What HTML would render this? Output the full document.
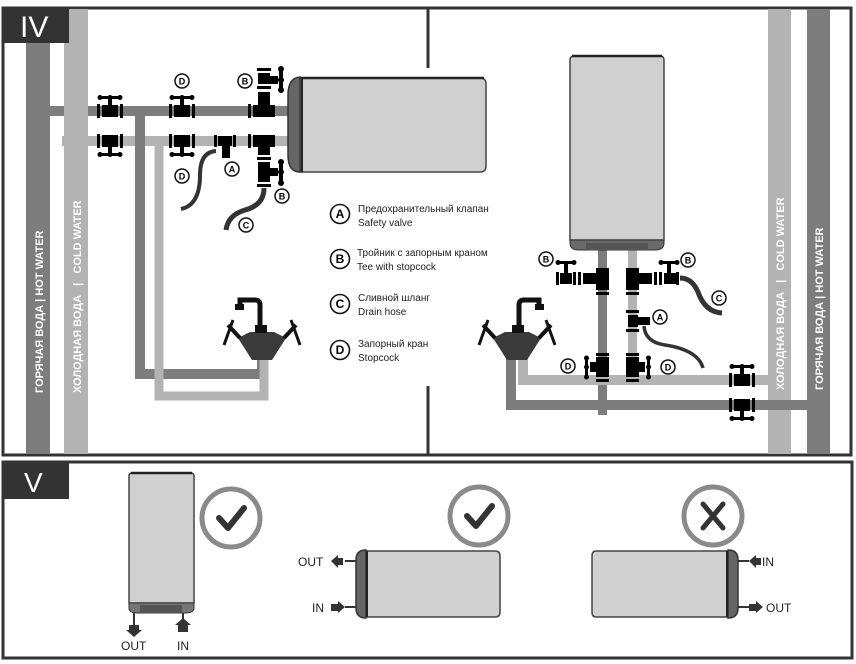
<!DOCTYPE html>
<html><head><meta charset="utf-8"><style>
html,body{margin:0;padding:0;background:#fff}
svg{display:block}
text{font-family:"Liberation Sans","DejaVu Sans",sans-serif}
</style></head><body>
<svg width="856" height="664" viewBox="0 0 856 664" xmlns="http://www.w3.org/2000/svg">
<defs>
<g id="v">
<rect x="-13" y="-7" width="3" height="14"/>
<rect x="10" y="-7" width="3" height="14"/>
<rect x="-8" y="-6" width="16" height="12"/>
<rect x="-2" y="-12" width="4" height="6"/>
<rect x="-11" y="-15" width="22" height="3"/>
<circle cx="-10" cy="-13.5" r="2.5"/><circle cx="10" cy="-13.5" r="2.5"/><circle cx="0" cy="-13.5" r="2.5"/>
</g>
<g id="lbl"><circle r="7" fill="#fff" stroke="#111" stroke-width="1.5"/></g>
<g id="faucet">
<polygon points="238,338 250,332 274,332 286,338 272,360 252,360" fill="#3a3a3a"/>
<rect x="255" y="325" width="12" height="8" fill="#111"/>
<path d="M260 326 V305 Q260 300 255 300 H240 V306" fill="none" stroke="#111" stroke-width="5"/>
<rect x="235" y="304" width="9" height="6" fill="#111"/>
<line x1="240" y1="338" x2="228" y2="325" stroke="#111" stroke-width="4"/>
<line x1="233" y1="320" x2="224" y2="345" stroke="#111" stroke-width="3"/>
<line x1="284" y1="338" x2="296" y2="325" stroke="#111" stroke-width="4"/>
<line x1="291" y1="320" x2="300" y2="345" stroke="#111" stroke-width="3"/>
</g>
</defs>

<!-- TOP PANEL -->
<rect x="3" y="8" width="848" height="447" fill="#fff" stroke="#333" stroke-width="3"/>
<line x1="428" y1="8" x2="428" y2="68" stroke="#333" stroke-width="3"/>
<line x1="428" y1="386" x2="428" y2="455" stroke="#333" stroke-width="3"/>

<!-- left risers -->
<rect x="26" y="43" width="24" height="411" fill="#7d7d7d"/>
<rect x="50" y="106" width="240" height="10" fill="#7d7d7d"/>
<rect x="64" y="9" width="24" height="445" fill="#b3b3b3"/>
<rect x="62" y="136" width="228" height="10" fill="#b3b3b3"/>
<text transform="translate(43,393) rotate(-90)" font-size="11" font-weight="bold" fill="#fff">ГОРЯЧАЯ ВОДА | HOT WATER</text>
<text transform="translate(81,393) rotate(-90)" font-size="11" font-weight="bold" fill="#fff">ХОЛОДНАЯ ВОДА&#160;&#160;&#160;|&#160;&#160;&#160;COLD WATER</text>
<rect x="3" y="8" width="66" height="35" fill="#333"/>
<text x="20" y="37" font-size="30" fill="#fff">IV</text>

<!-- faucet feed pipes left -->
<path d="M140 116 V374 H262 V358" fill="none" stroke="#7d7d7d" stroke-width="10"/>
<path d="M159 146 V396 H264 V358" fill="none" stroke="#b3b3b3" stroke-width="9"/>
<use href="#faucet"/>

<!-- left valves -->
<use href="#v" x="110" y="111"/>
<use href="#v" x="182" y="111"/>
<g transform="translate(110,141) scale(1,-1)"><use href="#v"/></g>
<g transform="translate(182,141) scale(1,-1)"><use href="#v"/></g>
<!-- safety valve A -->
<rect x="214" y="135" width="3" height="12"/><rect x="233" y="135" width="3" height="12"/>
<rect x="218" y="136" width="14" height="10"/><rect x="222" y="146" width="8" height="12"/>
<!-- tee B top -->
<rect x="248" y="104" width="3" height="14"/>
<rect x="253" y="105" width="22" height="12"/>
<rect x="258" y="92" width="12" height="13"/>
<rect x="257" y="86" width="14" height="3"/>
<rect x="258" y="73" width="12" height="11"/>
<rect x="257" y="68" width="14" height="3"/>
<rect x="270" y="76" width="8" height="8"/>
<rect x="279" y="67" width="4" height="25" rx="2"/>
<circle cx="281" cy="69" r="3"/><circle cx="281" cy="80" r="3"/><circle cx="281" cy="90" r="3"/>
<!-- tee B bottom -->
<rect x="248" y="134" width="3" height="14"/>
<rect x="253" y="135" width="22" height="12"/>
<rect x="258" y="147" width="12" height="8"/>
<rect x="257" y="157" width="14" height="3"/>
<rect x="258" y="162" width="12" height="20"/>
<rect x="257" y="184" width="14" height="3"/>
<rect x="270" y="168" width="8" height="8"/>
<rect x="279" y="160" width="4" height="25" rx="2"/>
<circle cx="281" cy="162" r="3"/><circle cx="281" cy="172" r="3"/><circle cx="281" cy="183" r="3"/>
<!-- hoses -->
<path d="M216 151 Q200 152 200 175 Q200 205 181 209" fill="none" stroke="#333" stroke-width="4"/>
<path d="M264 188 Q264 205 245 210 Q228 215 226 230" fill="none" stroke="#333" stroke-width="5"/>
<!-- labels -->
<g font-size="9" font-weight="bold" text-anchor="middle">
<use href="#lbl" x="182" y="81"/><text x="182" y="84.5">D</text>
<use href="#lbl" x="245" y="81"/><text x="245" y="84.5">B</text>
<use href="#lbl" x="182" y="176"/><text x="182" y="179.5">D</text>
<use href="#lbl" x="232" y="169"/><text x="232" y="172.5">A</text>
<use href="#lbl" x="282" y="196"/><text x="282" y="199.5">B</text>
<use href="#lbl" x="246" y="225"/><text x="246" y="228.5">C</text>
</g>

<!-- left heater horizontal -->
<path d="M300 78 H480 Q486 78 486 84 V166 Q486 172 480 172 H300 Z" fill="#d0d0d0" stroke="#444" stroke-width="1.5"/>
<line x1="300" y1="78" x2="484" y2="78" stroke="#222" stroke-width="2.5"/>
<path d="M300 77 Q288 78 288 95 V155 Q288 172 300 172 Z" fill="#666" stroke="#333" stroke-width="1.5"/>
<line x1="302" y1="78" x2="302" y2="172" stroke="#222" stroke-width="2"/>

<!-- legend -->
<g font-size="9" font-weight="bold" text-anchor="middle">
<circle cx="340" cy="214" r="9.5" fill="#fff" stroke="#111" stroke-width="1.6"/><text x="340" y="218" font-size="12">A</text>
<circle cx="340" cy="259" r="9.5" fill="#fff" stroke="#111" stroke-width="1.6"/><text x="340" y="263" font-size="12">B</text>
<circle cx="340" cy="304" r="9.5" fill="#fff" stroke="#111" stroke-width="1.6"/><text x="340" y="308" font-size="12">C</text>
<circle cx="340" cy="350" r="9.5" fill="#fff" stroke="#111" stroke-width="1.6"/><text x="340" y="354" font-size="12">D</text>
</g>
<g font-size="10" fill="#222">
<text x="358" y="212">Предохранительный клапан</text><text x="358" y="226">Safety valve</text>
<text x="357" y="256">Тройник с запорным краном</text><text x="357" y="270">Tee with stopcock</text>
<text x="358" y="301">Сливной шланг</text><text x="358" y="315">Drain hose</text>
<text x="358" y="347">Запорный кран</text><text x="358" y="361">Stopcock</text>
</g>

<!-- RIGHT SIDE -->
<rect x="768" y="9" width="23" height="445" fill="#b3b3b3"/>
<rect x="807" y="9" width="23" height="445" fill="#7d7d7d"/>
<text transform="translate(784,390) rotate(-90)" font-size="11" font-weight="bold" fill="#fff">ХОЛОДНАЯ ВОДА&#160;&#160;&#160;|&#160;&#160;&#160;COLD WATER</text>
<text transform="translate(823,390) rotate(-90)" font-size="11" font-weight="bold" fill="#fff">ГОРЯЧАЯ ВОДА | HOT WATER</text>
<rect x="598" y="250" width="9" height="165" fill="#7d7d7d"/>
<rect x="628" y="250" width="9" height="135" fill="#b3b3b3"/>
<path d="M511 358 V405 H807" fill="none" stroke="#7d7d7d" stroke-width="10"/>
<path d="M523 358 V380 H768" fill="none" stroke="#b3b3b3" stroke-width="10"/>
<g transform="translate(779,0) scale(-1,1)"><use href="#faucet"/></g>

<!-- right vertical heater -->
<path d="M574 56 H660 Q664 56 664 60 V240 H570 V60 Q570 56 574 56 Z" fill="#d0d0d0" stroke="#444" stroke-width="1.5"/>
<line x1="572" y1="56" x2="662" y2="56" stroke="#222" stroke-width="2.5"/>
<path d="M570 240 H664 V243 Q664 250 655 250 H579 Q570 250 570 243 Z" fill="#6a6a6a" stroke="#333" stroke-width="1"/>
<rect x="586" y="243" width="62" height="7" fill="#555"/>

<!-- right tees B -->
<rect x="596" y="268" width="13" height="22"/>
<rect x="596" y="292" width="13" height="3"/>
<rect x="583" y="273" width="13" height="11"/>
<rect x="578" y="272" width="3" height="13"/><rect x="573" y="272" width="3" height="13"/>
<rect x="560" y="273" width="12" height="11"/><rect x="556" y="272" width="3" height="13"/>
<rect x="564" y="264" width="4" height="9"/><rect x="557" y="261" width="18" height="3"/>
<circle cx="558" cy="262.5" r="2.5"/><circle cx="574" cy="262.5" r="2.5"/>
<rect x="626" y="268" width="13" height="22"/>
<rect x="626" y="292" width="13" height="3"/>
<rect x="639" y="273" width="13" height="11"/>
<rect x="654" y="272" width="3" height="13"/><rect x="659" y="272" width="3" height="13"/>
<rect x="664" y="273" width="12" height="11"/><rect x="676" y="272" width="3" height="13"/>
<rect x="667" y="264" width="4" height="9"/><rect x="661" y="261" width="18" height="3"/>
<circle cx="661" cy="262.5" r="2.5"/><circle cx="677" cy="262.5" r="2.5"/>
<path d="M680 278 Q692 278 698 292 Q705 312 722 313" fill="none" stroke="#333" stroke-width="5"/>
<!-- A right -->
<rect x="626" y="310" width="13" height="3"/><rect x="628" y="315" width="10" height="12"/>
<rect x="638" y="317" width="12" height="8"/><rect x="626" y="329" width="13" height="3"/>
<path d="M644 326 Q645 342 665 345 Q698 350 703 368" fill="none" stroke="#333" stroke-width="3.5"/>
<!-- D right -->
<rect x="596" y="353" width="13" height="3"/><rect x="596" y="357" width="13" height="20"/><rect x="596" y="379" width="13" height="3"/>
<rect x="590" y="362" width="6" height="10"/><rect x="585" y="360" width="3" height="15"/>
<circle cx="586.5" cy="358" r="2.5"/><circle cx="586.5" cy="367" r="2.5"/><circle cx="586.5" cy="377" r="2.5"/>
<rect x="626" y="353" width="13" height="3"/><rect x="626" y="357" width="13" height="20"/><rect x="626" y="379" width="13" height="3"/>
<rect x="639" y="362" width="6" height="10"/><rect x="647" y="360" width="3" height="15"/>
<circle cx="648.5" cy="358" r="2.5"/><circle cx="648.5" cy="367" r="2.5"/><circle cx="648.5" cy="377" r="2.5"/>
<use href="#v" x="742" y="380"/>
<g transform="translate(742,405) scale(1,-1)"><use href="#v"/></g>
<g font-size="9" font-weight="bold" text-anchor="middle">
<use href="#lbl" x="546" y="259"/><text x="546" y="262.5">B</text>
<use href="#lbl" x="688" y="260"/><text x="688" y="263.5">B</text>
<use href="#lbl" x="719" y="298"/><text x="719" y="301.5">C</text>
<use href="#lbl" x="660" y="317"/><text x="660" y="320.5">A</text>
<use href="#lbl" x="568" y="366"/><text x="568" y="369.5">D</text>
<use href="#lbl" x="668" y="367"/><text x="668" y="370.5">D</text>
</g>

<!-- BOTTOM PANEL -->
<rect x="3" y="462" width="849" height="196" fill="#fff" stroke="#333" stroke-width="3"/>
<rect x="3" y="462" width="66" height="37" fill="#333"/>
<text x="24" y="492" font-size="28" fill="#fff">V</text>

<!-- vertical heater -->
<path d="M132 473 H191 Q194 473 194 476 V603 H129 V476 Q129 473 132 473 Z" fill="#d0d0d0" stroke="#444" stroke-width="1.5"/>
<line x1="131" y1="473" x2="192" y2="473" stroke="#222" stroke-width="2.5"/>
<path d="M129 603 H194 V608 Q194 613 185 613 H138 Q129 613 129 608 Z" fill="#777" stroke="#333" stroke-width="1"/>
<rect x="140" y="605" width="42" height="7" fill="#555"/>
<line x1="134" y1="613" x2="134" y2="625" stroke="#333" stroke-width="2"/>
<polygon points="129,625 139,625 139,630 142,630 134,637 126,630 129,630" fill="#333"/>
<line x1="183" y1="613" x2="183" y2="626" stroke="#333" stroke-width="2"/>
<polygon points="183,618 191,625 188,625 188,632 178,632 178,625 175,625" fill="#333"/>
<text x="121" y="650" font-size="12" fill="#222">OUT</text>
<text x="177" y="650" font-size="12" fill="#222">IN</text>

<!-- circles -->
<circle cx="231" cy="518" r="29" fill="#fff" stroke="#8a8a8a" stroke-width="5"/>
<path d="M219 518 L228 528 L244 508" fill="none" stroke="#333" stroke-width="6" stroke-linecap="round" stroke-linejoin="round"/>
<circle cx="479" cy="516" r="29" fill="#fff" stroke="#8a8a8a" stroke-width="5"/>
<path d="M467 516 L476 526 L492 506" fill="none" stroke="#333" stroke-width="6" stroke-linecap="round" stroke-linejoin="round"/>
<circle cx="713" cy="516" r="29" fill="#fff" stroke="#8a8a8a" stroke-width="5"/>
<path d="M703 504 L723 528 M723 504 L703 528" stroke="#333" stroke-width="5" stroke-linecap="round"/>

<!-- heater 2 -->
<path d="M366 551 H495 Q500 551 500 556 V612 Q500 617 495 617 H366 Z" fill="#d0d0d0" stroke="#444" stroke-width="1.5"/>
<path d="M366 550 Q356 550 356 560 V608 Q356 618 366 618 Z" fill="#666" stroke="#333" stroke-width="1.5"/>
<line x1="367" y1="551" x2="367" y2="617" stroke="#222" stroke-width="2"/>
<line x1="345" y1="561" x2="356" y2="561" stroke="#333" stroke-width="2"/>
<polygon points="331,561 338,555 338,558 343,558 343,565 338,565 338,568" fill="#333"/>
<text x="298" y="566" font-size="12" fill="#222">OUT</text>
<line x1="345" y1="607" x2="356" y2="607" stroke="#333" stroke-width="2"/>
<polygon points="345,607 338,601 338,604 331,604 331,611 338,611 338,613" fill="#333"/>
<text x="312" y="612" font-size="12" fill="#222">IN</text>

<!-- heater 3 -->
<path d="M596 551 H728 V617 H596 Q592 617 592 612 V556 Q592 551 596 551 Z" fill="#d0d0d0" stroke="#444" stroke-width="1.5"/>
<path d="M728 550 Q738 550 738 560 V608 Q738 618 728 618 Z" fill="#666" stroke="#333" stroke-width="1.5"/>
<line x1="727" y1="551" x2="727" y2="617" stroke="#222" stroke-width="2"/>
<line x1="738" y1="561" x2="749" y2="561" stroke="#333" stroke-width="2"/>
<polygon points="749,561 756,555 756,558 761,558 761,565 756,565 756,568" fill="#333"/>
<text x="762" y="566" font-size="12" fill="#222">IN</text>
<line x1="738" y1="607" x2="749" y2="607" stroke="#333" stroke-width="2"/>
<polygon points="763,607 756,601 756,604 749,604 749,611 756,611 756,613" fill="#333"/>
<text x="766" y="612" font-size="12" fill="#222">OUT</text>
</svg>
</body></html>
